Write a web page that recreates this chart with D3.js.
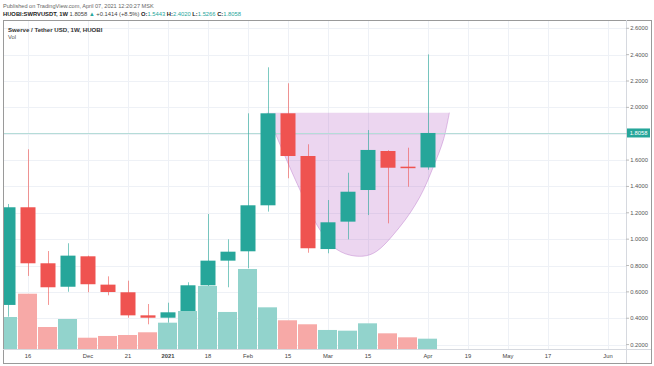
<!DOCTYPE html>
<html><head><meta charset="utf-8">
<script src="https://cdn.jsdelivr.net/npm/d3@7/dist/d3.min.js"></script>
<style>
html,body{margin:0;padding:0;background:#fff;}
svg{display:block;font-family:"Liberation Sans",Arial,sans-serif;}
</style></head>
<body>
<svg id="c" width="654" height="366"></svg>
<script>
// ---- data ----
const weekStarts = ["2020-11-09","2020-11-16","2020-11-23","2020-11-30","2020-12-07","2020-12-14","2020-12-21","2020-12-28",
  "2021-01-04","2021-01-11","2021-01-18","2021-01-25","2021-02-01","2021-02-08","2021-02-15","2021-02-22",
  "2021-03-01","2021-03-08","2021-03-15","2021-03-22","2021-03-29","2021-04-05"];
const opens  = [0.501,1.242,0.817,0.639,0.870,0.655,0.597,0.422,0.404,0.442,0.650,0.837,0.908,1.257,1.955,1.631,0.925,1.133,1.373,1.669,1.550,1.5443];
const highs  = [1.267,1.682,0.910,0.969,0.875,0.718,0.685,0.508,0.518,0.673,1.191,0.999,1.955,2.304,2.183,1.720,1.297,1.504,1.828,1.675,1.694,2.4020];
const lows   = [0.412,0.721,0.501,0.601,0.597,0.574,0.404,0.354,0.366,0.347,0.614,0.635,0.780,1.209,1.462,0.897,0.893,0.999,1.183,1.120,1.398,1.5266];
const closes = [1.242,0.817,0.635,0.875,0.658,0.599,0.422,0.404,0.445,0.650,0.837,0.905,1.257,1.955,1.631,0.931,1.128,1.360,1.677,1.542,1.544,1.8058];
const volumes = [4.00,6.91,2.75,3.75,1.41,1.63,1.75,2.09,3.29,4.75,7.88,4.63,10.0,5.21,3.59,3.09,2.38,2.29,3.21,1.96,1.46,1.29];

const priceTicks = [0.2,0.4,0.6,0.8,1.0,1.2,1.4,1.6,1.8,2.0,2.2,2.4,2.6];
const timeTickDates  = ["2020-11-16","2020-12-07","2020-12-21","2021-01-04","2021-01-18","2021-02-01","2021-02-15","2021-03-01","2021-03-15","2021-04-05","2021-04-19","2021-05-03","2021-05-17","2021-06-07"];
const timeTickLabels = ["16","Dec","21","2021","18","Feb","15","Mar","15","Apr","19","May","17","Jun"];
const lastPrice = 1.8058;

// cup annotation: [week offset from first bar, price]
const cupWeeks  = [12.95,13.4,14.6,15.6,16.43,17.35,18.27,19.6,20.6,21.27,21.77,22.07];
const cupPrices = [1.960,1.790,1.373,1.070,0.923,0.872,0.893,1.095,1.322,1.550,1.753,1.960];
const cupTop = 1.960;

// ---- layout ----
const svg = d3.select("#c");
const L = 3, T = 20, R = 626, B = 349, OR = 651, OB = 363;
const up = "#26a69a", dn = "#ef5350";
const upV = "#92d3cc", dnV = "#f7a9a7";
const parse = d3.utcParse("%Y-%m-%d");
const dates = weekStarts.map(parse);
const WEEK = 7*24*3600*1000;

const x = d3.scaleUtc().domain([parse("2020-11-09"), parse("2021-06-07")]).range([8, 608]);
const y = d3.scaleLinear().domain([0.2, 2.6]).range([344.6, 28.3]);
const yv = d3.scaleLinear().domain([0, 10]).range([B, 269]);

// header texts
svg.append("text").attr("x",3).attr("y",8).attr("font-size",5.6).attr("fill","#666")
  .text("Published on TradingView.com, April 07, 2021 12:20:27 MSK");
const h2 = svg.append("text").attr("x",3).attr("y",16).attr("font-size",5.8).attr("fill","#444");
h2.append("tspan").attr("font-weight","bold").attr("fill","#222").text("HUOBI:SWRVUSDT, 1W ");
h2.append("tspan").text(" 1.8058 ");
h2.append("tspan").attr("fill",up).text("▲");
h2.append("tspan").text(" +0.1414 (+8.5%) ");
[["O:","1.5443"],["H:","2.4020"],["L:","1.5266"],["C:","1.8058"]].forEach(([k,v])=>{
  h2.append("tspan").attr("font-weight","bold").attr("fill","#222").text(" "+k);
  h2.append("tspan").attr("fill",up).text(v);
});

// frame
svg.append("rect").attr("x",L+0.5).attr("y",T+0.5).attr("width",OR-L).attr("height",OB-T)
  .attr("fill","#fff").attr("stroke","#9a9a9a").attr("stroke-width",1);

// clip
svg.append("clipPath").attr("id","plot").append("rect").attr("x",L+1).attr("y",T+1).attr("width",R-L-1).attr("height",B-T-1);
const g = svg.append("g").attr("clip-path","url(#plot)");

// grid
g.selectAll(".hg").data(priceTicks).join("line")
  .attr("x1",L).attr("x2",R).attr("y1",d=>Math.round(y(d))+0.5).attr("y2",d=>Math.round(y(d))+0.5)
  .attr("stroke","#eef1f6").attr("stroke-width",1);
g.selectAll(".vg").data(timeTickDates.map(parse)).join("line")
  .attr("x1",d=>Math.round(x(d))+0.5).attr("x2",d=>Math.round(x(d))+0.5).attr("y1",T).attr("y2",B)
  .attr("stroke","#eef1f6").attr("stroke-width",1);

// cup annotation
const cupPts = cupWeeks.map((w,i)=>[new Date(dates[0].getTime()+w*WEEK), cupPrices[i]]);
const area = d3.area().x(d=>x(d[0])).y0(y(cupTop)).y1(d=>y(d[1])).curve(d3.curveCatmullRom.alpha(0.5));
g.append("path").attr("d",area(cupPts)).attr("fill","rgba(186,104,200,0.27)");
const line = d3.line().x(d=>x(d[0])).y(d=>y(d[1])).curve(d3.curveCatmullRom.alpha(0.5));
g.append("path").attr("d",line(cupPts)).attr("fill","none").attr("stroke","rgba(170,90,190,0.45)").attr("stroke-width",0.8);

// last price line
const lpY = Math.round(y(lastPrice)) + 0.5;
g.append("line").attr("x1",L).attr("x2",R).attr("y1",lpY).attr("y2",lpY)
  .attr("stroke","#b5dcd8").attr("stroke-width",1);

// candles
const bars = dates.map((d,i)=>({d, o:opens[i], h:highs[i], l:lows[i], c:closes[i], v:volumes[i]}));
const col = b => b.c >= b.o ? up : dn;
g.selectAll(".wick").data(bars).join("line")
  .attr("x1",b=>Math.round(x(b.d))+0.5).attr("x2",b=>Math.round(x(b.d))+0.5)
  .attr("y1",b=>y(b.h)).attr("y2",b=>y(b.l))
  .attr("stroke",col).attr("stroke-opacity",0.6).attr("stroke-width",1);
g.selectAll(".body").data(bars).join("rect")
  .attr("x",b=>x(b.d)-7.5).attr("width",15)
  .attr("y",b=>y(Math.max(b.o,b.c)))
  .attr("height",b=>Math.max(1.5, Math.abs(y(b.o)-y(b.c))))
  .attr("fill",col);

// volume
g.selectAll(".vol").data(bars).join("rect")
  .attr("x",b=>x(b.d)-10).attr("width",19)
  .attr("y",b=>yv(b.v)).attr("height",b=>B-yv(b.v))
  .attr("fill",b=> b.c>=b.o ? upV : dnV);

// separators
svg.append("line").attr("x1",R+0.5).attr("x2",R+0.5).attr("y1",T).attr("y2",OB).attr("stroke","#d6d9df");
svg.append("line").attr("x1",L).attr("x2",OR).attr("y1",B+0.5).attr("y2",B+0.5).attr("stroke","#d6d9df");

// chart legend
svg.append("text").attr("x",8).attr("y",31.5).attr("font-size",6.1).attr("font-weight","bold").attr("fill","#333")
  .text("Swerve / Tether USD, 1W, HUOBI");
svg.append("text").attr("x",8).attr("y",38.5).attr("font-size",5.8).attr("fill","#555").text("Vol");

// price axis
const pa = svg.append("g");
pa.selectAll("line").data(priceTicks).join("line")
  .attr("x1",R).attr("x2",R+3).attr("y1",d=>y(d)).attr("y2",d=>y(d)).attr("stroke","#bbb");
pa.selectAll("text").data(priceTicks.filter(p=>Math.abs(p-1.8)>1e-9)).join("text")
  .attr("x",639).attr("y",d=>y(d)+2).attr("text-anchor","middle").attr("font-size",5.8).attr("fill","#555")
  .text(d=>d3.format(".4f")(d));
svg.append("rect").attr("x",627).attr("y",y(lastPrice)-4.5).attr("width",23).attr("height",9).attr("fill",up);
svg.append("text").attr("x",638.5).attr("y",y(lastPrice)+2).attr("text-anchor","middle").attr("font-size",5.8).attr("fill","#fff")
  .text(d3.format(".4f")(lastPrice));

// time axis
svg.selectAll(".tl").data(timeTickDates).join("text")
  .attr("x",d=>x(parse(d))).attr("y",358).attr("text-anchor","middle").attr("font-size",5.8).attr("fill","#444")
  .attr("font-weight",(d,i)=>timeTickLabels[i]==="2021"?"bold":"normal")
  .text((d,i)=>timeTickLabels[i]);
</script>
</body></html>
